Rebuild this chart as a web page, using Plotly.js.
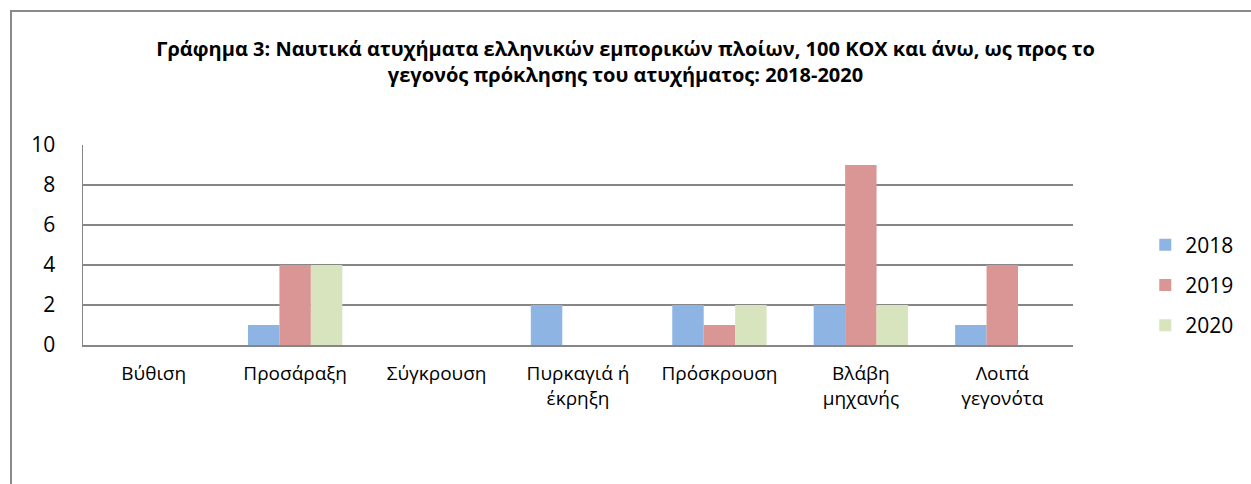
<!DOCTYPE html>
<html><head><meta charset="utf-8">
<script src="https://cdn.plot.ly/plotly-3.0.1.min.js"></script>
<style>
body{margin:0;padding:0;background:#fff;overflow:hidden;}
#frame{position:absolute;left:10px;top:10px;width:1300px;height:600px;border:2px solid #8a8a8a;box-sizing:border-box;}
#chart{position:absolute;left:0;top:0;width:1251px;height:484px;}
</style></head>
<body>
<div id="frame"></div>
<div id="chart"></div>
<script>
const categories = ["Βύθιση","Προσάραξη","Σύγκρουση","Πυρκαγιά ή<br>έκρηξη","Πρόσκρουση","Βλάβη<br>μηχανής","Λοιπά<br>γεγονότα"];
const years = ["2018","2019","2020"];
const v2018 = [0,1,0,2,2,2,1];
const v2019 = [0,4,0,0,1,9,4];
const v2020 = [0,4,0,0,2,2,0];
const colors = ["#8EB4E3","#D99694","#D7E4BD"];
const series = [v2018, v2019, v2020];

const traces = series.map((vals,i)=>({
  type:'bar', x:categories, y:vals, name:years[i], legendgroup:years[i],
  marker:{color:colors[i], line:{width:0}}
}));

const layout = {
  width:1251, height:484,
  margin:{l:83, r:178, t:145, b:139, pad:0, autoexpand:false},
  paper_bgcolor:'rgba(0,0,0,0)', plot_bgcolor:'rgba(0,0,0,0)',
  font:{family:'Open Sans, Liberation Sans, sans-serif', color:'#000'},
  title:{text:'Γράφημα 3: Ναυτικά ατυχήματα ελληνικών εμπορικών πλοίων, 100 ΚΟΧ και άνω, ως προς το<br>γεγονός πρόκλησης του ατυχήματος: 2018-2020',
    font:{size:20, family:'Open Sans, sans-serif', weight:'bold', color:'#000'},
    x:0.5, xanchor:'center', xref:'container', y:0.884, yanchor:'middle', yref:'container'},
  barmode:'group', bargap:0.333, bargroupgap:0,
  xaxis:{type:'category', showgrid:false, showline:true, linecolor:'#868686', linewidth:2,
    tickfont:{size:19}, ticks:'', ticklabelstandoff:10, zeroline:false, fixedrange:true},
  yaxis:{range:[0,10], dtick:2, tick0:0, showgrid:true, gridcolor:'#868686', gridwidth:1.5,
    showline:true, linecolor:'#868686', linewidth:1.5, zeroline:false,
    tickfont:{size:21}, ticks:'', ticklabelstandoff:22, fixedrange:true},
  legend:{x:1.073, xanchor:'left', y:0.3, yanchor:'middle', font:{size:21},
    traceorder:'grouped', tracegroupgap:10, bgcolor:'rgba(0,0,0,0)', itemwidth:30},
  showlegend:true
};
Plotly.newPlot('chart', traces, layout, {displayModeBar:false, staticPlot:true});
</script>
</body></html>
